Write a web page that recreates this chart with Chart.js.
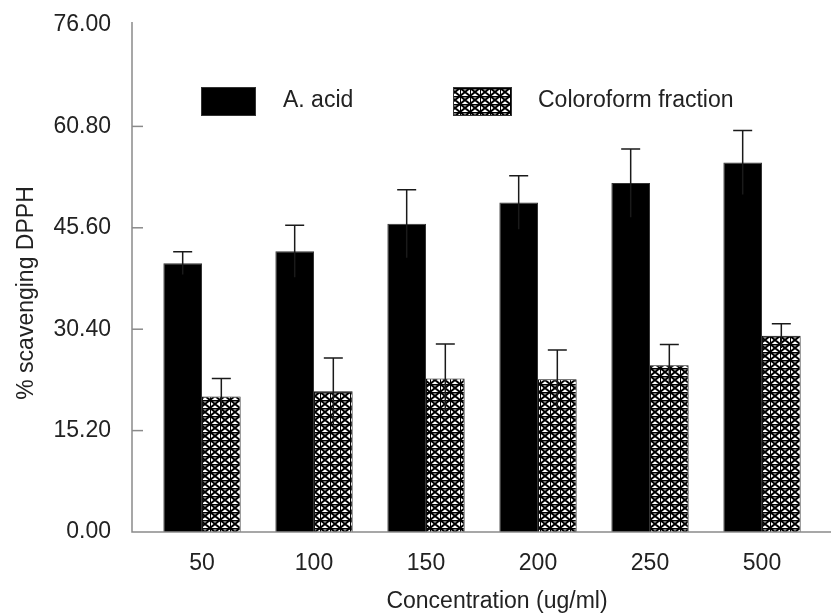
<!DOCTYPE html>
<html>
<head>
<meta charset="utf-8">
<script src="https://cdn.jsdelivr.net/npm/chart.js@4/dist/chart.umd.min.js"></script>
<style>
    html, body { margin: 0; padding: 0; background: #fff; overflow: hidden; }
    #wrap { width: 831px; height: 615px; position: relative; }
</style>
</head>
<body>
<div id="wrap"><canvas id="chart"></canvas></div>
<script>
// --- data ---
const categories = ['50', '100', '150', '200', '250', '500'];
const acidValues = [40.3, 42.1, 46.2, 49.4, 52.3, 55.4];
const acidErrors = [1.7, 3.9, 5.1, 4.0, 5.1, 4.8];
const chloroValues = [20.3, 21.1, 23.0, 22.9, 25.0, 29.4];
const chloroErrors = [2.7, 5.0, 5.2, 4.4, 3.1, 1.8];
const yTicks = [0, 15.2, 30.4, 45.6, 60.8, 76];
const seriesNames = ['A. acid', 'Coloroform fraction'];
const xTitle = 'Concentration (ug/ml)';
const yTitle = '% scavenging DPPH';

const FONT = "'Liberation Sans', Arial, sans-serif";
const TEXT = '#222';
const AXIS = '#8a8a8a';

// --- hatch pattern for the fraction bars ---
function makeHatch() {
    const c = document.createElement('canvas');
    c.width = 10; c.height = 8;
    const g = c.getContext('2d');
    g.fillStyle = '#fff';
    g.fillRect(0, 0, 10, 8);
    g.strokeStyle = '#000';
    g.lineWidth = 2;
    g.beginPath();
    g.moveTo(0, 0); g.lineTo(10, 8);
    g.moveTo(10, 0); g.lineTo(0, 8);
    g.stroke();
    g.fillStyle = '#000';
    g.fillRect(0, 0, 10, 1.5);
    g.fillRect(0, 0, 1, 8);
    return g.createPattern(c, 'repeat');
}
const hatch = makeHatch();

// --- axes, error bars, legend, titles ---
const extras = {
    id: 'extras',
    afterDatasetsDraw(chart) {
        const ctx = chart.ctx;
        const y = chart.scales.y;
        const errs = [acidErrors, chloroErrors];
        ctx.save();
        ctx.strokeStyle = '#1a1a1a';
        ctx.lineWidth = 1.5;
        chart.data.datasets.forEach((ds, di) => {
            chart.getDatasetMeta(di).data.forEach((bar, i) => {
                const v = ds.data[i], e = errs[di][i];
                const top = y.getPixelForValue(v + e);
                const bot = y.getPixelForValue(v - e);
                ctx.beginPath();
                ctx.moveTo(bar.x, bot);
                ctx.lineTo(bar.x, top);
                ctx.moveTo(bar.x - 9.5, top);
                ctx.lineTo(bar.x + 9.5, top);
                ctx.stroke();
            });
        });
        ctx.restore();
    },
    afterDraw(chart) {
        const ctx = chart.ctx;
        const y = chart.scales.y;
        const area = chart.chartArea;
        const ax = 132;
        ctx.save();
        // axis lines
        ctx.strokeStyle = AXIS;
        ctx.lineWidth = 1.5;
        ctx.beginPath();
        ctx.moveTo(ax, area.top - 3);
        ctx.lineTo(ax, area.bottom);
        ctx.lineTo(chart.width, area.bottom);
        ctx.stroke();
        // inward ticks
        yTicks.slice(1, -1).forEach(v => {
            const py = y.getPixelForValue(v);
            ctx.beginPath();
            ctx.moveTo(ax, py);
            ctx.lineTo(ax + 11, py);
            ctx.stroke();
        });

        // legend
        ctx.font = `23px ${FONT}`;
        ctx.textBaseline = 'alphabetic';
        ctx.textAlign = 'left';
        const boxes = [[201, 55, '#000'], [453, 59, hatch]];
        boxes.forEach(([bx, bw, fill], i) => {
            ctx.fillStyle = fill;
            ctx.fillRect(bx, 87, bw, 29);
            ctx.strokeStyle = '#333';
            ctx.lineWidth = 1;
            ctx.strokeRect(bx + 0.5, 87.5, bw - 1, 28);
            ctx.fillStyle = TEXT;
            ctx.fillText(seriesNames[i], i === 0 ? 283 : 538, 107);
        });

        // axis titles
        ctx.textAlign = 'center';
        ctx.fillText(xTitle, 497, 608);
        ctx.translate(33, 293);
        ctx.rotate(-Math.PI / 2);
        ctx.fillText(yTitle, 0, 0);
        ctx.restore();
    }
};

new Chart(document.getElementById('chart'), {
    type: 'bar',
    data: {
        labels: categories,
        datasets: [
            { label: seriesNames[0], data: acidValues, backgroundColor: '#000', borderColor: '#333', borderWidth: 1 },
            { label: seriesNames[1], data: chloroValues, backgroundColor: hatch, borderColor: '#111', borderWidth: 1 }
        ]
    },
    options: {
        responsive: true,
        maintainAspectRatio: false,
        animation: false,
        layout: { padding: { top: 25, right: 13, left: 0, bottom: 0 } },
        plugins: { legend: { display: false }, tooltip: { enabled: false } },
        datasets: { bar: { categoryPercentage: 0.69, barPercentage: 1 } },
        scales: {
            x: {
                grid: { display: false, drawTicks: false },
                border: { display: false },
                ticks: { color: TEXT, font: { family: FONT, size: 23 }, padding: 18 },
                afterFit(s) { s.height = 83; }
            },
            y: {
                min: 0,
                max: 76,
                // tick marks themselves are drawn by the plugin, tickLength only spaces the labels
                grid: { display: false, drawTicks: true, tickLength: 34 },
                border: { display: false },
                afterBuildTicks(s) { s.ticks = yTicks.map(v => ({ value: v })); },
                ticks: {
                    color: TEXT,
                    font: { family: FONT, size: 23 },
                    padding: 1,
                    callback: v => Number(v).toFixed(2)
                },
                afterFit(s) { s.width = 146; }
            }
        }
    },
    plugins: [extras]
});
</script>
</body>
</html>
